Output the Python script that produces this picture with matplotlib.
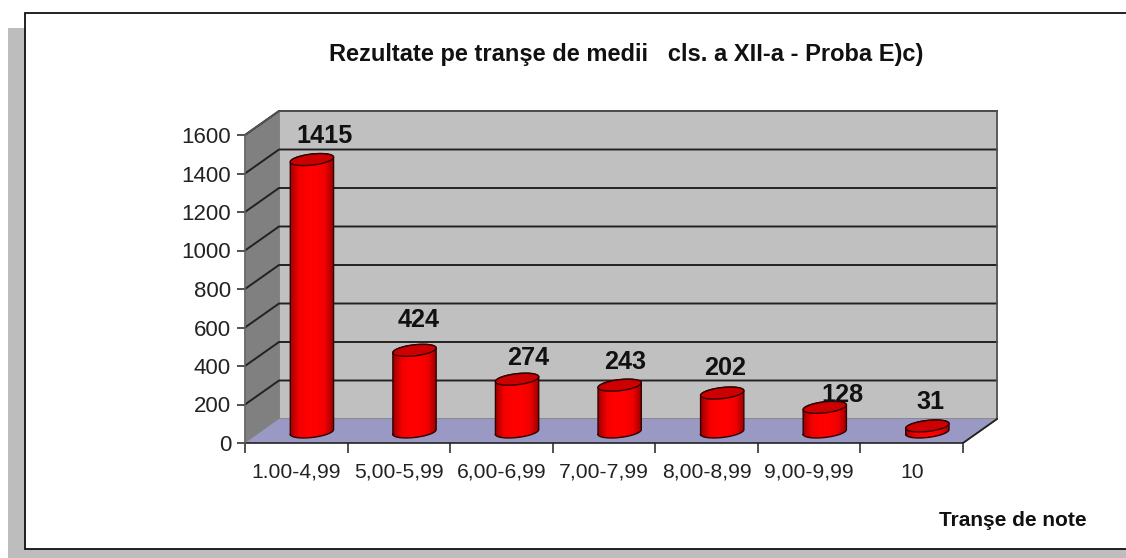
import numpy as np
import matplotlib
matplotlib.use('Agg')
import matplotlib.pyplot as plt
from matplotlib.colors import LinearSegmentedColormap
from matplotlib.patches import Polygon, Rectangle, PathPatch
from matplotlib.path import Path

plt.rcParams['font.family'] = ['Liberation Sans', 'DejaVu Sans']

W, H = 1126, 558

categories = ['1.00-4,99', '5,00-5,99', '6,00-6,99', '7,00-7,99', '8,00-8,99', '9,00-9,99', '10']
values = [1415, 424, 274, 243, 202, 128, 31]
y_ticks = [0, 200, 400, 600, 800, 1000, 1200, 1400, 1600]

# depth of the fake 3d box, in data units
DX = 34 / (718 / 7)
DY = 24 / (308 / 1600)
RX = 0.194
RD = 0.25
DEPTH = 0.46

red_map = LinearSegmentedColormap.from_list('cyl', ['#a00000', '#f40000', '#ff0000', '#ff0000', '#f00000', '#9a0000'])


def px_axes(fig, x0, y0, x1, y1):
    return fig.add_axes([x0 / W, 1 - y1 / H, (x1 - x0) / W, (y1 - y0) / H])


def ellipse(cx, base, n=80):
    t = np.linspace(0, 2 * np.pi, n)
    ex = cx + DEPTH * DX + RX * np.cos(t) + RD * DX * np.sin(t)
    ey = base + DEPTH * DY + RD * DY * np.sin(t)
    return ex, ey


fig = plt.figure(figsize=(W / 100, H / 100), dpi=100, facecolor='white')

# page background and chart frame, the frame runs off the right edge
bg = fig.add_axes([0, 0, 1, 1])
bg.set_xlim(0, W)
bg.set_ylim(H, 0)
bg.axis('off')
bg.add_patch(Rectangle((8, 28), W, H, fc='#bdbdbd', ec='none'))
bg.add_patch(Rectangle((25, 13), W, 536, fc='white', ec='#111111', lw=1.3))

ax = px_axes(fig, 245, 135, 963, 443)
ax.set_xlim(0, len(categories))
ax.set_ylim(0, 1600)
ax.patch.set_alpha(0)
for s in ax.spines.values():
    s.set_visible(False)

n = len(categories)
top = y_ticks[-1]

# back wall, side wall, floor
ax.add_patch(Polygon([(DX, DY), (n + DX, DY), (n + DX, top + DY), (DX, top + DY)],
                     fc='#c0c0c0', ec='#808080', lw=1.2, clip_on=False, zorder=1))
ax.add_patch(Polygon([(0, 0), (DX, DY), (DX, top + DY), (0, top)],
                     fc='#808080', ec='#808080', lw=1, clip_on=False, zorder=1))
ax.add_patch(Polygon([(0, 0), (n, 0), (n + DX, DY), (DX, DY)],
                     fc='#9999c4', ec='none', clip_on=False, zorder=1))

# gridlines run across the side wall and along the back
for v in y_ticks[1:]:
    ax.plot([0, DX, n + DX], [v, v + DY, v + DY], color='#222222', lw=1.4, clip_on=False, zorder=2,
            solid_joinstyle='miter')
ax.plot([0, DX, n + DX, n + DX, n], [top, top + DY, top + DY, DY, 0], color='#555555', lw=1.2, clip_on=False, zorder=2)
ax.plot([0, n, n + DX], [0, 0, DY], color='#222222', lw=1.2, clip_on=False, zorder=3)
ax.plot([0, 0], [0, top], color='#666666', lw=1.1, clip_on=False, zorder=3)

# cylinders
grad = np.linspace(0, 1, 64).reshape(1, -1)
for i, v in enumerate(values):
    cx = i + 0.5
    bx, by = ellipse(cx, 0)
    tx, ty = ellipse(cx, v)
    li, ri = np.argmin(bx), np.argmax(bx)
    l, r = bx[li], bx[ri]
    # lower half of the base, then up and back over the top
    lower = np.arange(li, ri + 1) if li < ri else np.r_[li:len(bx), 0:ri + 1]
    upper = np.arange(ri, li + 1) if ri < li else np.r_[ri:len(bx), 0:li + 1]
    body_x = np.r_[bx[lower], tx[upper]]
    body_y = np.r_[by[lower], ty[upper]]
    verts = np.column_stack([body_x, body_y])
    patch = PathPatch(Path(np.vstack([verts, verts[0]]), closed=True), fc='none', ec='none', transform=ax.transData)
    ax.add_patch(patch)
    im = ax.imshow(grad, extent=[l, r, by.min(), ty.max()], cmap=red_map, aspect='auto', zorder=4,
                   interpolation='bilinear')
    im.set_clip_path(patch)
    ax.plot(np.r_[body_x, body_x[0]], np.r_[body_y, body_y[0]], color='#300000', lw=1.0, zorder=5, clip_on=False)
    ax.fill(tx, ty, fc='#cc0000', ec='#300000', lw=1.0, zorder=6, clip_on=False)

ax.set_xlim(0, n)
ax.set_ylim(0, 1600)

ax.set_xticks(range(n + 1))
ax.set_xticklabels([])
ax.set_yticks(y_ticks)
ax.set_yticklabels([str(v) for v in y_ticks], fontsize=16, color='#222222')
ax.tick_params(axis='y', length=6, width=1.1, color='#222222', pad=4)
ax.tick_params(axis='x', length=7, width=1.1, color='#222222')

for i, c in enumerate(categories):
    ax.annotate(c, (i + 0.5, 0), xytext=(0, -20), textcoords='offset pixels', ha='center', va='top',
                fontsize=15.2, color='#222222', annotation_clip=False)

# value labels are placed by hand in the original, offsets in pixels
label_off = [(28, 35), (20, 41), (27, 32), (21, 34), (19, 36), (33, 23), (19, 35)]
for i, v in enumerate(values):
    ax.annotate(str(v), (i + 0.5, v), xytext=label_off[i], textcoords='offset pixels', ha='center', va='center',
                fontsize=18.2, fontweight='bold', color='#111111', annotation_clip=False, zorder=7)

fig.text(626 / W, 1 - 55 / H, 'Rezultate pe tranşe de medii   cls. a XII-a - Proba E)c)', ha='center', va='center',
         fontsize=17, fontweight='bold', color='#111111')
fig.text(1013 / W, 1 - 521 / H, 'Tranşe de note', ha='center', va='center', fontsize=15, fontweight='bold',
         color='#111111')

fig.savefig('out.png', dpi=100)
